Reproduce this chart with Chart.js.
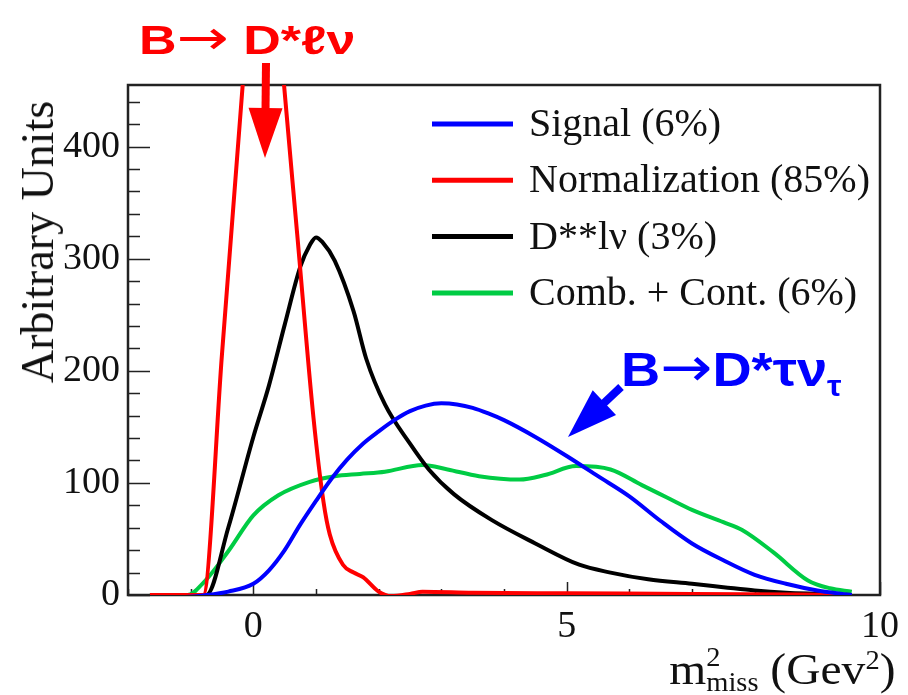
<!DOCTYPE html>
<html>
<head>
<meta charset="utf-8">
<script src="https://cdn.jsdelivr.net/npm/chart.js@4.4.1/dist/chart.umd.min.js"></script>
<style>
  body { margin: 0; background: #fff; }
  #wrap { position: relative; width: 908px; height: 695px; overflow: hidden; }
  #chart { position: absolute; left: 0; top: 0; }
  .note { position: absolute; white-space: nowrap; font-family: "Liberation Sans", Arial, sans-serif; font-weight: bold; line-height: 1; transform-origin: 0 0; }
  .note .arr { font-family: "DejaVu Sans", sans-serif; font-weight: normal; }
  #noteNorm { color: #ff0000; font-size: 40px; left: 139px; top: 13px; transform: scaleX(1.3); }
  #noteNorm .arr { font-size: 1.2em; }
  #noteSig { color: #0000ff; font-size: 48px; left: 621px; top: 340px; transform: scaleX(1.13); }
  #noteSig .arr { font-size: 1.15em; }
  #noteSig sub { font-size: 0.6em; vertical-align: -0.35em; }
  .serif { position: absolute; white-space: nowrap; font-family: "Liberation Serif", "Times New Roman", serif; color: #111; line-height: 1; }
  #ytitle { font-size: 46px; left: 38px; top: 242px; transform: translate(-50%, -50%) rotate(-90deg); }
  #xtitle { font-size: 44px; right: 13px; top: 645px; transform: scaleX(1.08); transform-origin: 100% 0; }
  #xtitle .stack { display: inline-flex; flex-direction: column; font-size: 0.6em; line-height: 0.95; vertical-align: 0.7em; }
  #xtitle sup { font-size: 0.6em; vertical-align: 0.6em; line-height: 0; }
</style>
</head>
<body>
<div id="wrap">
  <canvas id="chart" width="908" height="695"></canvas>
  <div class="note" id="noteNorm">B<span class="arr">→</span> D*ℓν</div>
  <div class="note" id="noteSig">B<span class="arr">→</span>D*τν<sub>τ</sub></div>
  <div class="serif" id="ytitle">Arbitrary Units</div>
  <div class="serif" id="xtitle">m<span class="stack"><span>2</span><span>miss</span></span> (Gev<sup>2</sup>)</div>
</div>
<script>
// 曲线数据
const signalX = [-1.65, -1.2, -0.75, -0.4, 0, 0.25, 0.5, 0.75, 1.0, 1.25, 1.5, 1.75, 2.0, 2.25, 2.5, 2.75, 3.0, 3.25, 3.5, 3.75, 4.0, 4.5, 5.0, 5.5, 6.0, 6.5, 7.0, 7.5, 8.0, 8.5, 9.0, 9.55];
const signalY = [-2, -2, 0, 3, 10, 22, 40, 63, 84, 104, 121, 135, 146, 156, 164, 169, 171, 170, 167, 162, 156, 141, 124, 106, 88, 66, 46, 31, 18, 10, 4, 0];

const normX = [-1.65, -0.8, -0.5, -0.17, 0.15, 0.49, 0.7, 0.96, 1.12, 1.22, 1.43, 1.6, 1.75, 2.0, 2.2, 2.5, 2.7, 3.5, 5.0, 7.0, 9.55];
const normY = [0, 0, 215, 455, 690, 455, 322, 158, 83, 54, 27, 20, 16, 3, -1, 1, 3, 2, 1.5, 1, 0];

const dssX = [-1.65, -0.75, -0.4, 0, 0.25, 0.5, 0.75, 0.9, 1.0, 1.1, 1.3, 1.6, 1.8, 2.1, 2.5, 2.8, 3.2, 3.8, 4.5, 5.2, 5.7, 6.3, 7.0, 7.5, 8.0, 8.5, 9.0, 9.55];
const dssY = [0, 0, 60, 141, 187, 241, 293, 312, 319, 315, 298, 253, 211, 170, 135, 112, 90, 67, 46, 27, 20, 14, 10, 7, 4, 2, 1, 0];

const combX = [-1.65, -1.05, -0.78, -0.4, 0, 0.4, 0.9, 1.3, 1.7, 2.1, 2.7, 3.1, 3.6, 4.25, 4.65, 5.15, 5.7, 6.2, 6.6, 7.0, 7.5, 7.8, 8.3, 8.85, 9.2, 9.55];
const combY = [0, 0, 12, 39, 71, 89, 101, 106, 108, 110, 116, 112, 106, 103, 107, 115, 112, 98, 87, 76, 65, 58, 38, 13, 6, 3];

// 图例与坐标轴
const seriesLabels = ['Signal (6%)', 'Normalization (85%)', 'D**lν (3%)', 'Comb. + Cont. (6%)'];
const seriesColors = ['#0000ff', '#ff0000', '#000000', '#00cc44'];
const xTickValues = [0, 5, 10];
const yTickValues = [0, 100, 200, 300, 400];
const xMinorValues = [-2, -1, 0, 1, 2, 3, 4, 5, 6, 7, 8, 9, 10];
const yMinorValues = [0, 20, 40, 60, 80, 100, 120, 140, 160, 180, 200, 220, 240, 260, 280, 300, 320, 340, 360, 380, 400, 420, 440];

function toPoints(xs, ys) {
  return xs.map((x, i) => ({ x: x, y: ys[i] }));
}

// 边框和朝内的刻度（ROOT 风格）
const frameTicks = {
  id: 'frameTicks',
  beforeDatasetsDraw(chart) {
    const { ctx, chartArea: a, scales: { x, y } } = chart;
    ctx.save();
    ctx.strokeStyle = '#222';
    ctx.lineWidth = 1.5;
    ctx.beginPath();
    xMinorValues.forEach(v => {
      const px = Math.round(x.getPixelForValue(v)) + 0.5;
      const len = xTickValues.includes(v) ? 13 : 6;
      ctx.moveTo(px, a.bottom);
      ctx.lineTo(px, a.bottom - len);
    });
    yMinorValues.forEach(v => {
      const py = Math.round(y.getPixelForValue(v)) + 0.5;
      const len = yTickValues.includes(v) ? 22 : 12;
      ctx.moveTo(a.left, py);
      ctx.lineTo(a.left + len, py);
    });
    ctx.stroke();
    ctx.lineWidth = 2.5;
    ctx.strokeRect(a.left, a.top, a.right - a.left, a.bottom - a.top);
    ctx.restore();
  }
};

// 图例：放在绘图区右上方
const innerLegend = {
  id: 'innerLegend',
  afterDatasetsDraw(chart) {
    const ctx = chart.ctx;
    ctx.save();
    ctx.font = '40px "Liberation Serif", "Times New Roman", serif';
    ctx.textBaseline = 'alphabetic';
    chart.data.datasets.forEach((ds, i) => {
      const ly = 124 + i * 56.3;
      ctx.strokeStyle = ds.borderColor;
      ctx.lineWidth = 5;
      ctx.beginPath();
      ctx.moveTo(432, ly);
      ctx.lineTo(513, ly);
      ctx.stroke();
      ctx.fillStyle = '#111';
      ctx.fillText(ds.label, 529, ly + 12);
    });
    ctx.restore();
  }
};

// 标注箭头
function drawArrow(ctx, x0, y0, x1, y1, headLen, headHalf, shaftW, color) {
  const dx = x1 - x0, dy = y1 - y0;
  const len = Math.sqrt(dx * dx + dy * dy);
  const ux = dx / len, uy = dy / len;
  const bx = x1 - ux * headLen, by = y1 - uy * headLen;
  ctx.save();
  ctx.strokeStyle = color;
  ctx.fillStyle = color;
  ctx.lineWidth = shaftW;
  ctx.beginPath();
  ctx.moveTo(x0, y0);
  ctx.lineTo(bx + ux, by + uy);
  ctx.stroke();
  ctx.beginPath();
  ctx.moveTo(x1, y1);
  ctx.lineTo(bx - uy * headHalf, by + ux * headHalf);
  ctx.lineTo(bx + uy * headHalf, by - ux * headHalf);
  ctx.closePath();
  ctx.fill();
  ctx.restore();
}

const arrows = {
  id: 'arrows',
  afterDraw(chart) {
    drawArrow(chart.ctx, 266, 63, 265, 158, 50, 17, 8, '#ff0000');
    drawArrow(chart.ctx, 621, 387, 568, 437, 50, 17, 8, '#0000ff');
  }
};

const tickFont = { family: '"Liberation Serif", "Times New Roman", serif', size: 38 };

const canvas = document.getElementById('chart');
new Chart(canvas, {
  type: 'line',
  data: {
    datasets: [
      { label: seriesLabels[0], data: toPoints(signalX, signalY), borderColor: seriesColors[0] },
      { label: seriesLabels[1], data: toPoints(normX, normY), borderColor: seriesColors[1] },
      { label: seriesLabels[2], data: toPoints(dssX, dssY), borderColor: seriesColors[2] },
      { label: seriesLabels[3], data: toPoints(combX, combY), borderColor: seriesColors[3] }
    ]
  },
  options: {
    responsive: false,
    animation: false,
    layout: { padding: { left: 0, right: 20, top: 85, bottom: 0 } },
    plugins: {
      legend: { display: false },
      tooltip: { enabled: false }
    },
    elements: {
      point: { radius: 0 },
      line: { borderWidth: 4, cubicInterpolationMode: 'monotone', fill: false }
    },
    scales: {
      x: {
        type: 'linear',
        min: -2,
        max: 10,
        afterBuildTicks: s => { s.ticks = xTickValues.map(v => ({ value: v })); },
        afterFit: s => { s.height = 100; },
        grid: { display: false, drawTicks: false },
        border: { display: false },
        ticks: { font: tickFont, color: '#111', padding: 9, maxRotation: 0 }
      },
      y: {
        min: 0,
        max: 455,
        afterBuildTicks: s => { s.ticks = yTickValues.map(v => ({ value: v })); },
        afterFit: s => { s.width = 128; },
        grid: { display: false, drawTicks: false },
        border: { display: false },
        ticks: { font: tickFont, color: '#111', padding: 8 }
      }
    }
  },
  plugins: [frameTicks, innerLegend, arrows]
});
</script>
</body>
</html>
